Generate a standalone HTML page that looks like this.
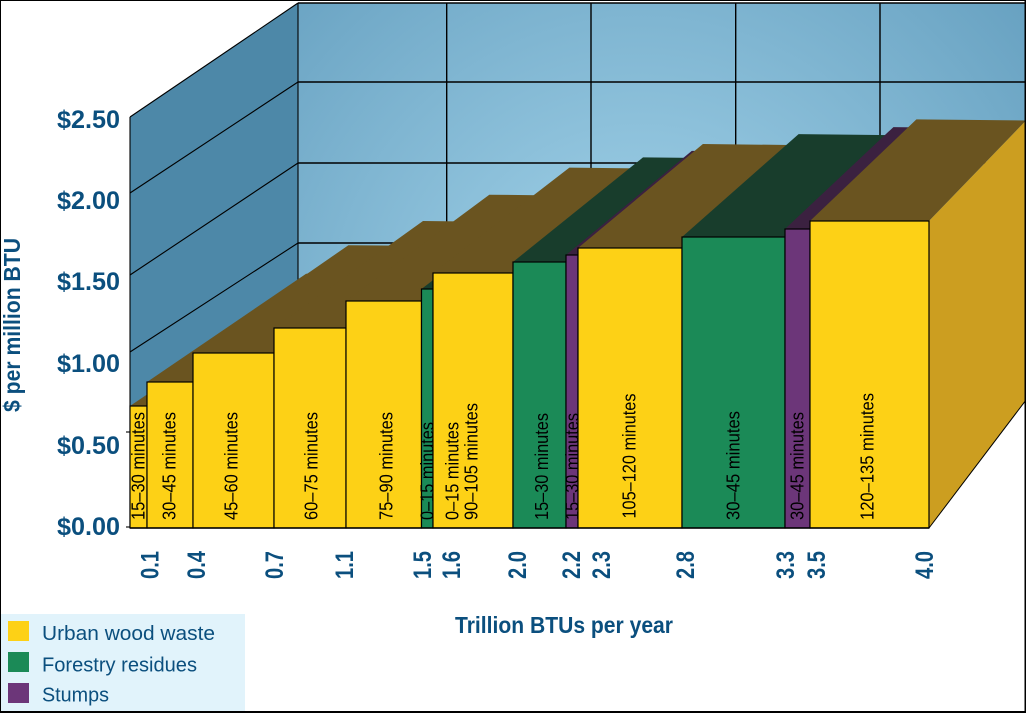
<!DOCTYPE html>
<html><head><meta charset="utf-8"><style>
html,body{margin:0;padding:0;background:#fff;}
svg{display:block;}
</style></head><body>
<svg width="1026" height="713" viewBox="0 0 1026 713" xmlns="http://www.w3.org/2000/svg" font-family="'Liberation Sans', sans-serif">
<defs>
<radialGradient id="bw" gradientUnits="userSpaceOnUse" cx="640" cy="330" r="520">
<stop offset="0" stop-color="#a6d6ec"/>
<stop offset="1" stop-color="#66a0c0"/>
</radialGradient>
</defs>
<rect width="1026" height="713" fill="#fff"/>

<!-- back wall -->
<rect x="298" y="3" width="728" height="400" fill="url(#bw)"/>
<g stroke="#000" stroke-width="1.4" fill="none">
<line x1="298" y1="3" x2="1026" y2="3"/>
<line x1="298" y1="82" x2="1026" y2="82"/>
<line x1="298" y1="163" x2="1026" y2="163"/>
<line x1="298" y1="243" x2="1026" y2="243"/>
<line x1="298" y1="323" x2="1026" y2="323"/>
<line x1="446.7" y1="3" x2="446.7" y2="403"/>
<line x1="591" y1="3" x2="591" y2="403"/>
<line x1="735.7" y1="3" x2="735.7" y2="403"/>
<line x1="880" y1="3" x2="880" y2="403"/>
</g>

<!-- left wall -->
<polygon points="130,117 298,3 298,403 130,528" fill="#4d88a8"/>
<g stroke="#000" stroke-width="1.1" fill="none">
<line x1="130" y1="117" x2="298" y2="3"/>
<line x1="130" y1="193" x2="298" y2="82"/>
<line x1="130" y1="275" x2="298" y2="163"/>
<line x1="130" y1="352" x2="298" y2="243"/>
<line x1="130" y1="432" x2="298" y2="323"/>
<line x1="298" y1="3" x2="298" y2="403"/>
<line x1="130" y1="117" x2="130" y2="528"/>
<line x1="126" y1="432" x2="130" y2="432"/>
<line x1="126" y1="527" x2="130" y2="527"/>
</g>

<!-- bars -->
<g stroke="none">
<polygon points="130,406 147,406 306.1,297.7 290.4,297.6" fill="#6a5420"/>
<polygon points="147,382 193,382 348.4,274.2 306.1,273.7" fill="#6a5420"/>
<polygon points="193,353 274,353 423,246 348.4,245.2" fill="#6a5420"/>
<polygon points="274,328 346,328 489.3,221.7 423,221" fill="#6a5420"/>
<polygon points="346,301 421.5,301 558.8,195.5 489.3,194.7" fill="#6a5420"/>
<polygon points="421.5,289 433,289 569.4,183.6 558.8,183.5" fill="#183d2c"/>
<polygon points="433,273 513,273 643,168.4 569.4,167.6" fill="#6a5420"/>
<polygon points="513,262 566,262 691.8,157.9 643,157.4" fill="#183d2c"/>
<polygon points="566,255 578,255 702.9,151 691.8,150.9" fill="#3b2140"/>
<polygon points="578,248 682,248 798.6,145.1 702.9,144" fill="#6a5420"/>
<polygon points="682,237 785,237 893.4,135.1 798.6,134.1" fill="#183d2c"/>
<polygon points="785,229 810,229 916.4,127.4 893.4,127.1" fill="#3b2140"/>
<polygon points="810,221 929,221 1026,120.5 916.4,119.4" fill="#6a5420"/>
<polygon points="929,221 1026,120.5 1026,400 929,528" fill="#cc9e20"/>
</g>
<line x1="929" y1="528" x2="1026" y2="400" stroke="#000" stroke-width="1"/>

<g stroke="#000" stroke-width="1.2">
<rect x="130" y="406" width="17" height="122" fill="#fdd116"/>
<rect x="147" y="382" width="46" height="146" fill="#fdd116"/>
<rect x="193" y="353" width="81" height="175" fill="#fdd116"/>
<rect x="274" y="328" width="72" height="200" fill="#fdd116"/>
<rect x="346" y="301" width="75.5" height="227" fill="#fdd116"/>
<rect x="421.5" y="289" width="11.5" height="239" fill="#1b8a57"/>
<rect x="433" y="273" width="80" height="255" fill="#fdd116"/>
<rect x="513" y="262" width="53" height="266" fill="#1b8a57"/>
<rect x="566" y="255" width="12" height="273" fill="#6c3679"/>
<rect x="578" y="248" width="104" height="280" fill="#fdd116"/>
<rect x="682" y="237" width="103" height="291" fill="#1b8a57"/>
<rect x="785" y="229" width="25" height="299" fill="#6c3679"/>
<rect x="810" y="221" width="119" height="307" fill="#fdd116"/>
</g>
<line x1="130" y1="528" x2="929" y2="528" stroke="#000" stroke-width="1.4"/>

<!-- bar labels -->
<g font-size="18" fill="#000">
<text transform="translate(138,520) rotate(-90)" y="6.5" textLength="108" lengthAdjust="spacingAndGlyphs">15–30 minutes</text>
<text transform="translate(169,520) rotate(-90)" y="6.5" textLength="108" lengthAdjust="spacingAndGlyphs">30–45 minutes</text>
<text transform="translate(231,520) rotate(-90)" y="6.5" textLength="108" lengthAdjust="spacingAndGlyphs">45–60 minutes</text>
<text transform="translate(311,520) rotate(-90)" y="6.5" textLength="108" lengthAdjust="spacingAndGlyphs">60–75 minutes</text>
<text transform="translate(386,520) rotate(-90)" y="6.5" textLength="108" lengthAdjust="spacingAndGlyphs">75–90 minutes</text>
<text transform="translate(427,520) rotate(-90)" y="6.5" textLength="98" lengthAdjust="spacingAndGlyphs">0–15 minutes</text>
<text transform="translate(452,520) rotate(-90)" y="6.5" textLength="98" lengthAdjust="spacingAndGlyphs">0–15 minutes</text>
<text transform="translate(471,520) rotate(-90)" y="6.5" textLength="117" lengthAdjust="spacingAndGlyphs">90–105 minutes</text>
<text transform="translate(541.5,520) rotate(-90)" y="6.5" textLength="107" lengthAdjust="spacingAndGlyphs">15–30 minutes</text>
<text transform="translate(572,520) rotate(-90)" y="6.5" textLength="107" lengthAdjust="spacingAndGlyphs">15–30 minutes</text>
<text transform="translate(629,518.5) rotate(-90)" y="6.5" textLength="125" lengthAdjust="spacingAndGlyphs">105–120 minutes</text>
<text transform="translate(733,520) rotate(-90)" y="6.5" textLength="109" lengthAdjust="spacingAndGlyphs">30–45 minutes</text>
<text transform="translate(797,520) rotate(-90)" y="6.5" textLength="108" lengthAdjust="spacingAndGlyphs">30–45 minutes</text>
<text transform="translate(867,520) rotate(-90)" y="6.5" textLength="127" lengthAdjust="spacingAndGlyphs">120–135 minutes</text>
</g>

<!-- y tick labels -->
<g font-size="25" font-weight="bold" fill="#0b4f7e" text-anchor="end">
<text x="120" y="128" textLength="63" lengthAdjust="spacingAndGlyphs">$2.50</text>
<text x="120" y="209" textLength="63" lengthAdjust="spacingAndGlyphs">$2.00</text>
<text x="120" y="290" textLength="63" lengthAdjust="spacingAndGlyphs">$1.50</text>
<text x="120" y="372" textLength="63" lengthAdjust="spacingAndGlyphs">$1.00</text>
<text x="120" y="454" textLength="63" lengthAdjust="spacingAndGlyphs">$0.50</text>
<text x="120" y="535" textLength="63" lengthAdjust="spacingAndGlyphs">$0.00</text>
</g>

<!-- x tick labels -->
<g font-size="25" font-weight="bold" fill="#0b4f7e">
<text transform="translate(149.5,579) rotate(-90)" y="8.8" textLength="28" lengthAdjust="spacingAndGlyphs">0.1</text>
<text transform="translate(196,579) rotate(-90)" y="8.8" textLength="28" lengthAdjust="spacingAndGlyphs">0.4</text>
<text transform="translate(274,579) rotate(-90)" y="8.8" textLength="28" lengthAdjust="spacingAndGlyphs">0.7</text>
<text transform="translate(344,579) rotate(-90)" y="8.8" textLength="28" lengthAdjust="spacingAndGlyphs">1.1</text>
<text transform="translate(422,579) rotate(-90)" y="8.8" textLength="28" lengthAdjust="spacingAndGlyphs">1.5</text>
<text transform="translate(451,579) rotate(-90)" y="8.8" textLength="28" lengthAdjust="spacingAndGlyphs">1.6</text>
<text transform="translate(517,579) rotate(-90)" y="8.8" textLength="28" lengthAdjust="spacingAndGlyphs">2.0</text>
<text transform="translate(571,579) rotate(-90)" y="8.8" textLength="28" lengthAdjust="spacingAndGlyphs">2.2</text>
<text transform="translate(601,579) rotate(-90)" y="8.8" textLength="28" lengthAdjust="spacingAndGlyphs">2.3</text>
<text transform="translate(685,579) rotate(-90)" y="8.8" textLength="28" lengthAdjust="spacingAndGlyphs">2.8</text>
<text transform="translate(785,579) rotate(-90)" y="8.8" textLength="28" lengthAdjust="spacingAndGlyphs">3.3</text>
<text transform="translate(816,579) rotate(-90)" y="8.8" textLength="28" lengthAdjust="spacingAndGlyphs">3.5</text>
<text transform="translate(924,579) rotate(-90)" y="8.8" textLength="28" lengthAdjust="spacingAndGlyphs">4.0</text>
</g>

<!-- axis titles -->
<text x="455" y="633" font-size="23" font-weight="bold" fill="#0b4f7e" textLength="218" lengthAdjust="spacingAndGlyphs">Trillion BTUs per year</text>
<text transform="translate(20,412) rotate(-90)" y="0" font-size="23" font-weight="bold" fill="#0b4f7e" textLength="174" lengthAdjust="spacingAndGlyphs">$ per million BTU</text>

<!-- legend -->
<rect x="0" y="614" width="245" height="99" fill="#e1f3fb"/>
<rect x="8" y="621" width="21" height="20" fill="#fdd116"/>
<rect x="8" y="652" width="21" height="20" fill="#1b8a57"/>
<rect x="8" y="683" width="21" height="20" fill="#6c3679"/>
<g font-size="20" fill="#0b4f7e">
<text x="42" y="640" textLength="173" lengthAdjust="spacingAndGlyphs">Urban wood waste</text>
<text x="42" y="671.5" textLength="155" lengthAdjust="spacingAndGlyphs">Forestry residues</text>
<text x="42" y="701.5" textLength="67" lengthAdjust="spacingAndGlyphs">Stumps</text>
</g>

<!-- image border -->
<rect x="0" y="0" width="1026" height="1" fill="#000"/>
<rect x="0" y="0" width="1" height="713" fill="#000"/>
<rect x="1024.5" y="0" width="1.5" height="713" fill="#000"/>
<rect x="0" y="711" width="1026" height="2" fill="#000"/>
</svg>
</body></html>
